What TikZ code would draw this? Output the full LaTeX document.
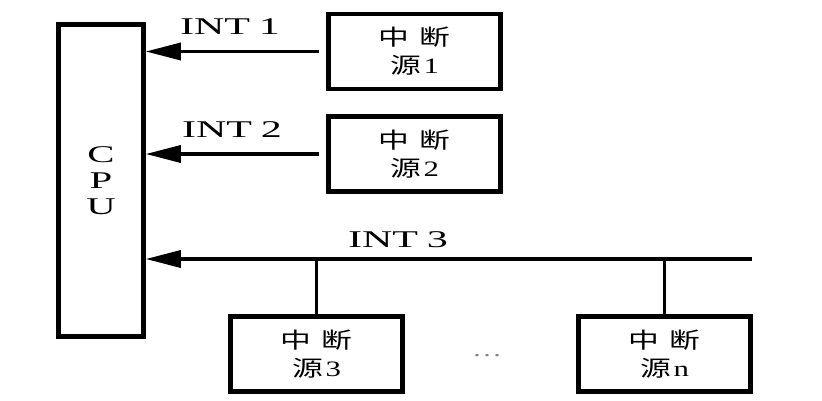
\documentclass[tikz,border=0pt]{standalone}
\usepackage{fontspec}
\setmainfont{Liberation Serif}
\newfontfamily\cjk{Noto Sans CJK SC}
\usetikzlibrary{arrows.meta}
\newcommand\widetxt[2][1.4]{\scalebox{#1}[1]{#2}}
\newcommand\srctext[1]{\widetxt{\cjk 中\hspace{7pt}断}\\\widetxt{{\cjk 源}\hspace{2pt}#1}}
\begin{document}
\begin{tikzpicture}[x=1pt,y=-1pt,
  box/.style={draw,line width=4.5pt,minimum width=172pt,minimum height=75pt,inner sep=0pt,align=center,font=\fontsize{22}{28}\selectfont},
  wire/.style={line width=3.5pt},
  sig/.style={wire,-{Triangle[length=35pt,width=17pt]}},
  lbl/.style={inner sep=0pt,font=\fontsize{24}{24}\selectfont}]
\useasboundingbox (0,0) rectangle (822,401);
\node[draw,line width=4.5pt,minimum width=85pt,minimum height=312pt,inner sep=0pt,align=center,font=\fontsize{24}{26}\selectfont] (cpu) at (101,180.5) {\widetxt[1.7]{C}\\\widetxt[1.7]{P}\\\widetxt[1.7]{U}};
\node[box] (src1) at (414.5,51.5) {\srctext{1}};
\node[box] (src2) at (414.5,154) {\srctext{2}};
\node[box] (src3) at (316.5,354) {\srctext{3}};
\node[box] (srcn) at (664.5,354) {\srctext{n}};
\coordinate (busend) at (752,259);
\draw[sig] ([xshift=-7pt]src1.west) -- (src1.west -| cpu.east);
\draw[sig] ([xshift=-7pt]src2.west) -- (src2.west -| cpu.east);
\draw[sig] (busend) -- (busend -| cpu.east);
\draw[wire] (src3.north) -- (src3.north |- busend);
\draw[wire] (srcn.north) -- (srcn.north |- busend);
\node[lbl] (l1) at (230,27) {\widetxt[1.75]{INT\hspace{5pt}1}};
\node[lbl] (l2) at (232,130) {\widetxt[1.75]{INT\hspace{5pt}2}};
\node[lbl] (l3) at (398,240) {\widetxt[1.75]{INT\hspace{5pt}3}};
\node[inner sep=0pt,text=gray,font=\fontsize{20}{20}\selectfont] (dots) at (487,356) {\widetxt[1.5]{…}};
\end{tikzpicture}
\end{document}
